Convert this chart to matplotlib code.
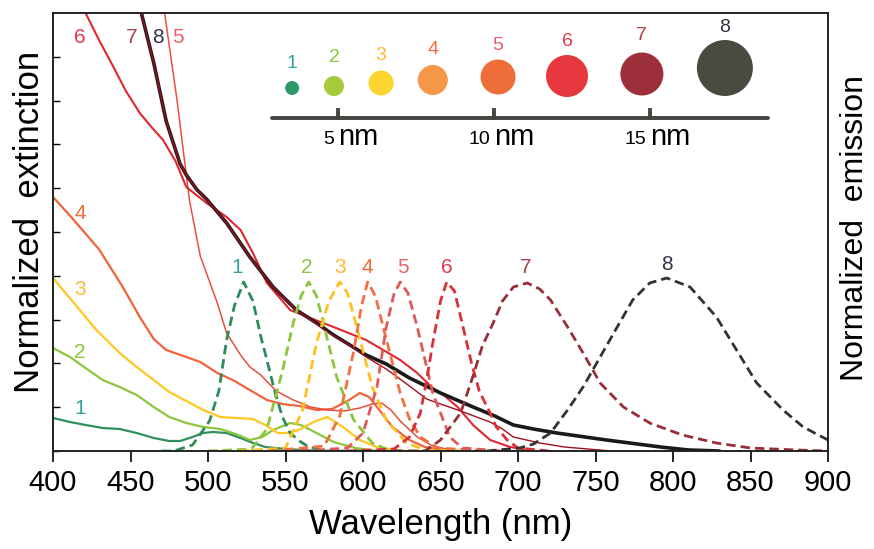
import numpy as np
import matplotlib.pyplot as plt

plt.rcParams['font.family'] = ['Liberation Sans', 'DejaVu Sans']

# plot height in "pixel" units, values are divided by it to get 0..1
H = 438.0

# extinction spectra (solid)
ext1_wl = [400, 411, 421, 432, 443, 454, 465, 475, 482, 490, 497, 503, 512, 521, 529, 537, 550, 570]
ext1_h = [33, 29, 26, 23, 22, 18, 13, 10, 10, 14, 18, 19, 18, 13, 8, 4, 2, 0]

ext2_wl = [400, 411, 421, 432, 443, 454, 465, 475, 486, 497, 508, 518, 527, 535, 542, 553, 560, 570, 581, 595, 610]
ext2_h = [103, 94, 83, 71, 64, 56, 44, 34, 28, 24, 22, 17, 11, 14, 21, 28, 26, 18, 9, 3, 0]

ext3_wl = [400, 414, 428, 443, 454, 465, 475, 486, 497, 508, 518, 529, 537, 545, 552, 560, 568, 577, 587, 598, 609, 625]
ext3_h = [173, 147, 121, 98, 84, 71, 59, 50, 41, 34, 33, 32, 26, 18, 18, 22, 29, 34, 24, 11, 4, 0]

ext4_wl = [400, 410, 419, 430, 445, 456, 465, 473, 486, 495, 506, 516, 527, 538, 548, 559, 570, 580, 590, 598, 604, 609, 619, 630, 640, 655]
ext4_h = [254, 237, 221, 201, 164, 134, 112, 101, 94, 89, 78, 71, 61, 51, 47, 45, 41, 42, 50, 58, 54, 44, 24, 11, 4, 0]

ext5_wl = [465, 472, 480, 484, 488, 495, 506, 512, 521, 527, 534, 544, 555, 566, 577, 588, 598, 606, 612, 618, 624, 635, 645, 660]
ext5_h = [520, 438, 351, 301, 251, 195, 148, 118, 96, 84, 76, 60, 51, 44, 41, 40, 43, 47, 48, 41, 30, 14, 5, 0]

ext6_wl = [410, 421, 430, 439, 447, 456, 464, 471, 479, 486, 499, 512, 521, 529, 538, 553, 566, 581, 602, 624, 635, 645, 652, 661, 671, 682, 695, 710]
ext6_h = [475, 438, 410, 384, 360, 338, 323, 311, 290, 264, 248, 234, 221, 198, 168, 141, 133, 124, 111, 91, 78, 63, 56, 44, 26, 11, 4, 0]

ext8_wl = [450, 457, 465, 473, 482, 486, 493, 499, 512, 527, 542, 557, 570, 581, 602, 615, 630, 650, 671, 685, 697, 710, 725, 757, 792, 810, 830]
ext8_h = [500, 438, 388, 330, 287, 276, 261, 252, 228, 194, 164, 141, 128, 116, 96, 87, 73, 58, 44, 35, 26, 22, 18, 11, 4, 1, 0]

ext7_wl = [450, 457, 465, 473, 482, 486, 493, 499, 512, 527, 542, 557, 570, 577, 590, 602, 615, 630, 641, 650, 663, 675, 682, 690, 697, 714, 730, 760]
ext7_h = [500, 438, 388, 330, 287, 276, 261, 252, 228, 194, 164, 141, 127, 119, 107, 94, 82, 65, 52, 47, 40, 33, 29, 22, 14, 8, 4, 0]

# emission spectra (dashed)
em1_wl = [470, 478, 490, 501, 507, 512, 517, 523, 529, 534, 538, 543, 548, 553, 559, 565, 575, 600]
em1_h = [0, 0, 6, 30, 60, 111, 145, 169, 150, 115, 91, 60, 34, 18, 10, 4, 0, 0]

em2_wl = [500, 528, 538, 548, 555, 560, 565, 570, 574, 583, 594, 606, 615, 625, 650]
em2_h = [0, 2, 22, 80, 128, 155, 169, 155, 131, 74, 31, 8, 2, 0, 0]

em3_wl = [520, 550, 561, 570, 578, 585, 590, 596, 606, 615, 628, 640, 670]
em3_h = [0, 3, 41, 108, 150, 169, 158, 124, 64, 31, 8, 1, 0]

em4_wl = [540, 575, 585, 594, 599, 603, 608, 613, 619, 624, 630, 637, 648, 680]
em4_h = [0, 5, 35, 100, 145, 169, 155, 124, 88, 58, 32, 14, 3, 0]

em5_wl = [560, 590, 600, 609, 615, 620, 624, 629, 635, 645, 650, 656, 664, 690]
em5_h = [0, 3, 18, 64, 124, 157, 169, 158, 124, 58, 38, 14, 3, 0]

em6_wl = [590, 620, 630, 637, 641, 645, 650, 654, 659, 665, 670, 675, 682, 686, 693, 700, 720]
em6_h = [0, 2, 14, 38, 70, 108, 150, 169, 160, 121, 88, 60, 38, 24, 11, 3, 0]

em7_wl = [620, 640, 650, 663, 671, 677, 684, 690, 697, 706, 714, 721, 732, 742, 753, 768, 785, 806, 828, 850, 880, 900]
em7_h = [0, 0, 11, 38, 75, 105, 128, 150, 164, 168, 162, 151, 124, 98, 68, 44, 28, 16, 8, 3, 1, 0]

em8_wl = [680, 701, 710, 721, 732, 742, 753, 764, 774, 785, 796, 811, 828, 841, 854, 871, 884, 900]
em8_h = [0, 3, 7, 18, 41, 64, 94, 124, 151, 168, 173, 164, 134, 101, 68, 41, 24, 11]

ext_series = [(ext1_wl, ext1_h), (ext2_wl, ext2_h), (ext3_wl, ext3_h), (ext4_wl, ext4_h),
              (ext5_wl, ext5_h), (ext6_wl, ext6_h), (ext8_wl, ext8_h), (ext7_wl, ext7_h)]
em_series = [(em1_wl, em1_h), (em2_wl, em2_h), (em3_wl, em3_h), (em4_wl, em4_h),
             (em5_wl, em5_h), (em6_wl, em6_h), (em7_wl, em7_h), (em8_wl, em8_h)]

ext_colors = ['#2f8f5f', '#8cc63f', '#ffc820', '#f0643a', '#e8503e', '#e0262e', '#1a1a1a', '#a01020']
ext_widths = [1.6, 1.6, 1.6, 1.6, 1.1, 1.5, 2.6, 1.0]
em_colors = ['#2e8b5a', '#8cc63f', '#ffc020', '#f07040', '#e05858', '#d83038', '#962f38', '#333333']
label_colors = ['#35a09a', '#8cc63f', '#ffb830', '#f26a36', '#e8606a', '#e03a4a', '#a8404a', '#333340']

em_peaks = [519, 564, 585, 603, 626, 654, 705, 796]
labels = ['1', '2', '3', '4', '5', '6', '7', '8']

# particle size inset
dot_nm = [3.53, 4.87, 6.38, 8.04, 10.13, 12.34, 14.74, 17.40]
dot_diam = [14, 20, 25, 30, 35, 42, 43, 56]
dot_y = [88, 86, 83, 80, 77, 76, 74, 68]
dot_label_y = [63, 58, 55, 50, 45, 42, 35, 27]
dot_colors = ['#2e9a68', '#a4cc3a', '#fdd530', '#f59648', '#ee6e3a', '#e8383f', '#9c2f3a', '#4a4a40']
scale_ticks = [5, 10, 15]

fig = plt.figure(figsize=(8.74, 5.49), dpi=100)
ax = fig.add_axes([53 / 874, 98 / 549, 775 / 874, 438 / 549])

for (wl, h), c, lw in zip(ext_series, ext_colors, ext_widths):
    ax.plot(wl, np.array(h) / H, color=c, lw=lw, solid_capstyle='round')
for (wl, h), c in zip(em_series, em_colors):
    ax.plot(wl, np.array(h) / H, color=c, lw=2.0, ls=(0, (3.4, 1.8)))

# labels next to the curves
left_lab_y = [0.098, 0.224, 0.368, 0.543]
for i in range(4):
    ax.text(417.4, left_lab_y[i], labels[i], color=label_colors[i], fontsize=15,
            ha='center', va='center')
top_lab_x = {'6': 417.4, '7': 451.0, '8': 467.7, '5': 480.6}
for lab, x in top_lab_x.items():
    ax.text(x, 0.943, lab, color=label_colors[int(lab) - 1], fontsize=15,
            ha='center', va='center')
for i, x in enumerate(em_peaks):
    ax.text(x, 0.42 + (0.006 if i == 7 else 0), labels[i], color=label_colors[i],
            fontsize=15, ha='center', va='center')

ax.set_xlim(400, 900)
ax.set_ylim(0, 1)
ax.set_xticks(range(400, 901, 50))
ax.set_yticks(np.arange(0, 1.0, 0.1))
ax.set_yticklabels([])
ax.tick_params(axis='x', direction='out', length=8, width=1.2, labelsize=21, pad=5)
ax.tick_params(axis='y', direction='in', length=5, width=1.0)
for s in ax.spines.values():
    s.set_linewidth(1.4)
    s.set_color('#222222')
ax.set_xlabel('Wavelength (nm)', fontsize=25, labelpad=8)
fig.text(30 / 874, 1 - 222 / 549, 'Normalized  extinction', rotation=90, fontsize=25,
         ha='center', va='center')
fig.text(855 / 874, 1 - 228 / 549, 'Normalized  emission', rotation=90, fontsize=23,
         ha='center', va='center')

# inset with particle sizes
px_per_nm = 31.2
x0 = 5 - (338 - 262) / px_per_nm
x1 = 15 + (778 - 650) / px_per_nm
axi = fig.add_axes([262 / 874, 1 - 160 / 549, 516 / 874, 145 / 549])
axi.set_xlim(x0, x1)
axi.set_ylim(160, 15)
axi.axis('off')
line_x0 = 5 - (338 - 272) / px_per_nm
line_x1 = 15 + (768 - 650) / px_per_nm
axi.plot([line_x0, line_x1], [118, 118], color='#444440', lw=2.8, solid_capstyle='round')
for t in scale_ticks:
    axi.plot([t, t], [110, 118], color='#444440', lw=2.8)
    axi.text(t - 4 / px_per_nm, 139, str(t), fontsize=14, ha='right', va='center')
    axi.text(t, 137, 'nm', fontsize=21, ha='left', va='center')
axi.scatter(dot_nm, dot_y, s=(0.72 * np.array(dot_diam)) ** 2, c=dot_colors, linewidths=0)
for x, y, lab, c in zip(dot_nm, dot_label_y, labels, label_colors):
    axi.text(x, y, lab, color=c, fontsize=14, ha='center', va='center')

fig.savefig('out.png', dpi=100)
